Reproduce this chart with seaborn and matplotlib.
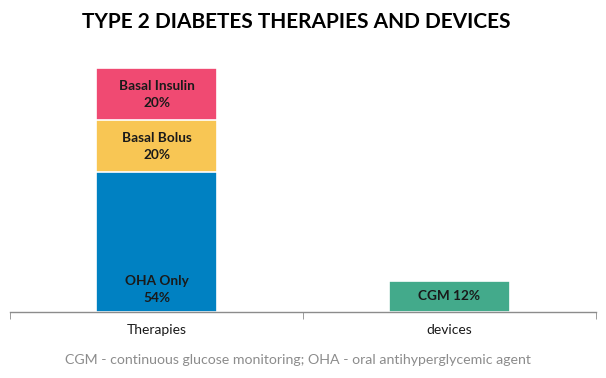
import matplotlib
matplotlib.use('Agg')
import matplotlib.pyplot as plt
import seaborn as sns
import pandas as pd

categories = ['Therapies', 'devices']
segments = ['OHA Only', 'Basal Bolus', 'Basal Insulin', 'CGM']
seg_category = ['Therapies', 'Therapies', 'Therapies', 'devices']
seg_values = [54, 20, 20, 12]
seg_colors = ['#0081C2', '#F8C654', '#F04A72', '#43AA8B']
seg_labels = ['OHA Only\n54%', 'Basal Bolus\n20%', 'Basal Insulin\n20%', 'CGM 12%']

sns.set_style('white')
plt.rcParams['font.family'] = ['Lato', 'DejaVu Sans']

df = pd.DataFrame({'category': seg_category, 'segment': segments, 'value': seg_values})
df['top'] = df.groupby('category')['value'].cumsum()
df['bottom'] = df['top'] - df['value']

fig = plt.figure(figsize=(6.06, 3.78), dpi=100)
ax = fig.add_axes([10 / 606, 1 - 312 / 378, 586 / 606, 245 / 378])

# stacked: draw the tallest cumulative first so lower pieces sit on top
for i in df.sort_values('top', ascending=False).index:
    row = df.loc[i]
    sub = pd.DataFrame({'category': [row['category']], 'top': [row['top']]})
    sns.barplot(data=sub, x='category', y='top', order=categories, color=seg_colors[i],
                width=0.41, edgecolor='white', linewidth=1.2, saturation=1, ax=ax)

for i, row in df.iterrows():
    xpos = categories.index(row['category'])
    if row['segment'] == 'OHA Only':
        ypos = row['bottom'] + 8.5
    else:
        ypos = row['bottom'] + row['value'] / 2
    ax.text(xpos, ypos, seg_labels[i], ha='center', va='center', fontsize=9.8,
            fontweight='bold', color='#1a1a1a', linespacing=1.5)

ax.set_xlim(-0.5, 1.5)
ax.set_ylim(0, 94.5)
ax.set_yticks([])
ax.set_xlabel('')
ax.set_ylabel('')
for s in ['top', 'right', 'left']:
    ax.spines[s].set_visible(False)
ax.spines['bottom'].set_color('#8c8c8c')
ax.spines['bottom'].set_linewidth(1)
ax.set_xticks([-0.5, 0.5, 1.5], minor=True)
ax.tick_params(axis='x', which='minor', length=5, color='#8c8c8c', bottom=True)
ax.tick_params(axis='x', which='major', length=0, pad=9, labelsize=10, labelcolor='#1a1a1a')

fig.text(0.489, 1 - 22 / 378, 'TYPE 2 DIABETES THERAPIES AND DEVICES', ha='center', va='center',
         fontsize=15, fontweight='bold', color='black')
fig.text(0.492, 1 - 360 / 378, 'CGM - continuous glucose monitoring; OHA - oral antihyperglycemic agent',
         ha='center', va='center', fontsize=10.2, color='#8c8c8c')

fig.savefig('out.png', dpi=100)
